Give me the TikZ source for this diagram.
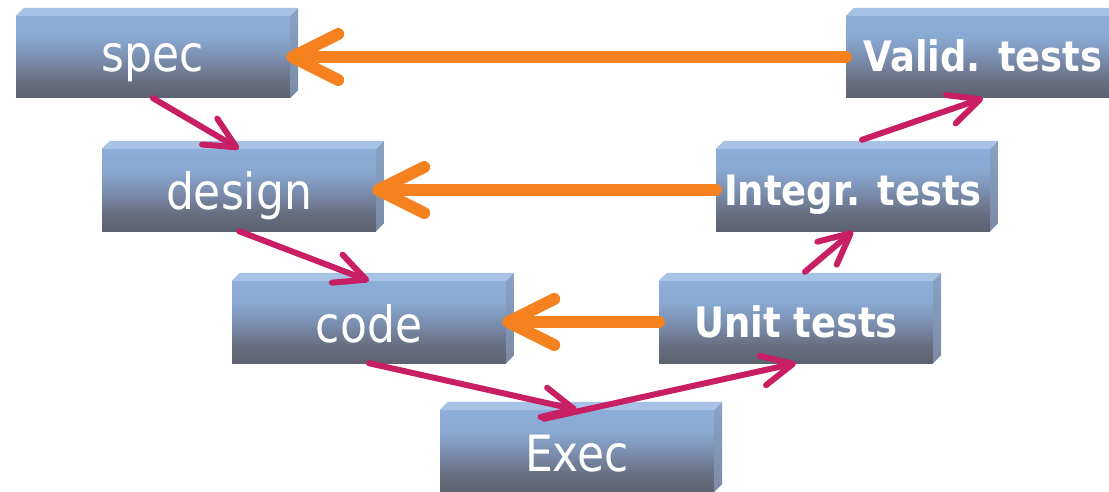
\documentclass[tikz,border=0pt]{standalone}
\usepackage{fontspec}
\usetikzlibrary{arrows.meta,calc}
\newfontfamily\slabfont[FakeStretch=0.88]{DejaVu Sans}

\definecolor{faceTop}{HTML}{A8C2E5}
\definecolor{frontHi}{HTML}{8DAED9}
\definecolor{frontUp}{HTML}{89A8D2}
\definecolor{frontMid}{HTML}{7A8EAE}
\definecolor{frontLow}{HTML}{686F82}
\definecolor{frontBot}{HTML}{5D616E}
\definecolor{sideHi}{HTML}{8AA2C5}
\definecolor{sideBot}{HTML}{7A8BA6}
\definecolor{feedback}{HTML}{F5821F}
\definecolor{flow}{HTML}{C81E63}

% front face of a slab: light blue on top, slate grey at the bottom
\pgfdeclareverticalshading{slabfront}{100bp}{color(0bp)=(frontBot); color(25bp)=(frontBot); color(36bp)=(frontLow); color(49bp)=(frontMid); color(62bp)=(frontUp); color(75bp)=(frontHi); color(100bp)=(frontHi)}

\tikzset{
  slab/.style={rectangle, inner sep=0pt, minimum width=274pt, minimum height=82pt,
    shade, shading=slabfront, text=white,
    font=\slabfont\fontsize{50}{60}\selectfont, text height=56pt, text depth=16pt},
  testslab/.style={slab, font=\slabfont\bfseries\fontsize{42}{50}\selectfont,
    text height=50pt, text depth=20pt},
  topface/.style={fill=faceTop},
  sideface/.style={top color=sideHi, bottom color=sideBot},
  feedbackarrow/.style={draw=feedback, line width=12pt, line cap=round,
    -{Straight Barb[length=46pt,width=46pt,round]}},
  flowarrow/.style={draw=flow, line width=6pt, line cap=round,
    -{Straight Barb[length=31pt,width=30pt,round]}},
}

\begin{document}
\begin{tikzpicture}[x=1pt, y=-1pt]
\path[use as bounding box, clip] (0,0) rectangle (1109,492);

% the V: development down the left, testing up the right
\node[slab, text depth=26pt] (spec)   at (153,57)  {spec};
\node[slab]                  (design) at (239,190) {design};
\node[slab]                  (code)   at (369,322) {code};
\node[slab]                  (exec)   at (577,451) {Exec};
\node[testslab]              (unit)   at (796,322) {Unit tests};
\node[testslab]              (integr) at (853,190) {Integr. tests};
\node[testslab]              (valid)  at (983,57)  {Valid. tests};

% top and right faces give each slab its depth
\foreach \n in {spec,design,code,exec,unit,integr,valid}{
  \fill[topface] (\n.north west) -- ++(8,-8) -- ([shift={(8,-8)}]\n.north east)
    -- (\n.north east) -- cycle;
  \shade[sideface] (\n.north east) -- ++(8,-8) -- ([shift={(8,-8)}]\n.south east)
    -- (\n.south east) -- cycle;
}

% start points of the upward arrows
\coordinate (execout)   at ($(exec.north)+(-33,9)$);
\coordinate (unitout)   at ($(unit.north)+(9,-9)$);
\coordinate (integrout) at ($(integr.north)+(9,-9)$);

% feedback from each test level to its specification level
\draw[feedbackarrow] (valid.west)  -- ([xshift=-4pt]spec.east);
\draw[feedbackarrow] (integr.west) -- ([xshift=-4pt]design.east);
\draw[feedbackarrow] (unit.west)   -- ([xshift=-4pt]code.east);

% the flow down and back up the V
\draw[flowarrow] (spec.south)   -- (design.north);
\draw[flowarrow] (design.south) -- (code.north);
\draw[flowarrow] (code.south)   -- (exec.north);
\draw[flowarrow] (execout)      -- (unit.south);
\draw[flowarrow] (unitout)      -- (integr.south);
\draw[flowarrow] (integrout)    -- (valid.south);
\end{tikzpicture}
\end{document}
